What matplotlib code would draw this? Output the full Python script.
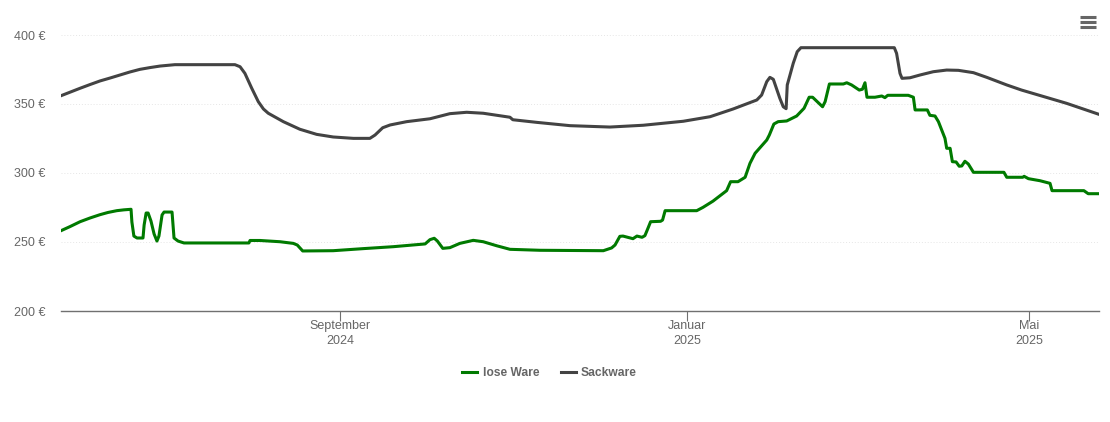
import matplotlib
matplotlib.use("Agg")
import matplotlib.pyplot as plt
from matplotlib.lines import Line2D
import pandas as pd

plt.rcParams['font.family'] = ['Liberation Sans', 'DejaVu Sans']

start_date = "2024-05-26"

# days since start_date, price in euro
lose_days = [0, 3.2, 6.7, 10.2, 13.7, 16.5, 19.6, 22.1, 24.6, 24.9, 25.6, 26.7, 28.8, 29.2, 29.9, 30.6, 31.6, 32.7,
             33.7, 34.4, 35.5, 36.2, 39, 39.7, 41.1, 43.2, 66, 66.4, 69.9, 76.9, 81.6, 83, 84.9, 95.6, 106.2, 116.7,
             127.9, 129.6, 131.1, 132.2, 134.1, 136.6, 140.1, 144.8, 148.3, 153, 157.7, 168.2, 190.5, 193.4, 194.6,
             196.3, 197.4, 200.9, 202.3, 204.1, 205.1, 206.2, 207.1, 210.6, 211.3, 212.2, 223.3, 225.5, 229, 233.8,
             235.2, 237.8, 240.3, 242, 243.8, 247.9, 248.8, 250.4, 251.9, 254.9, 258.4, 261, 262.8, 264, 267.5,
             268.4, 269.9, 274.8, 276, 277.7, 280.4, 281.5, 282.4, 283.1, 285.9, 288.3, 289.4, 290.4, 297.6, 299.4,
             300, 304.3, 305.2, 307, 308.2, 310.5, 311.1, 312.3, 313.1, 314.4, 315.5, 316.4, 317.5, 318.7, 320.5,
             331.2, 332.2, 337.8, 338.3, 339.8, 343.9, 347.4, 348.1, 359.3, 360.8, 364.6]
lose_price = [258.2, 261.2, 264.7, 267.4, 269.8, 271.4, 272.7, 273.3, 273.7, 264.5, 254.3, 252.9, 252.9, 262.3, 271,
              271, 265.2, 255.8, 250.7, 254.3, 269.6, 271.7, 271.7, 252.9, 250.7, 249.3, 249.3, 251.1, 251.1, 250.2,
              249, 247.8, 243.5, 243.7, 245.2, 246.6, 248.6, 251.7, 252.7, 250.7, 245.4, 245.9, 249, 251.2, 250.2,
              247.3, 244.7, 244, 243.7, 245.7, 247.8, 254.1, 254.3, 252.4, 254.3, 253.4, 254.6, 260.1, 264.7, 265,
              265.9, 272.7, 272.7, 275.1, 279.6, 287.2, 293.7, 293.7, 296.9, 307, 314.3, 323.9, 327.5, 335.5, 337.2,
              337.7, 341.3, 346.9, 354.9, 354.9, 348, 351.7, 364.5, 364.5, 365.4, 363.8, 360.1, 360.7, 365.4, 354.9,
              354.9, 355.8, 354.6, 356.3, 356.3, 354.9, 345.7, 345.7, 341.8, 341.3, 337.2, 325.1, 317.9, 317.9, 308.2,
              308, 304.9, 305.1, 308.5, 306.5, 300.5, 300.5, 296.9, 296.9, 297.6, 295.9, 294.4, 292.5, 287.2, 287.2,
              285, 285]

sack_days = [0, 6.7, 10.2, 13.7, 17.2, 20.7, 24.2, 27.7, 31.3, 34.8, 40, 61.1, 62.9, 64.6, 67, 69.3, 71.1, 72.8, 78.1,
             83.9, 89.8, 95.6, 102.7, 108.5, 110.3, 113, 115.6, 121.4, 129.6, 136.6, 142.5, 148.3, 157.7, 158.7,
             167.1, 178.8, 192.8, 204.5, 218.6, 228, 236.1, 244.4, 246.1, 247.9, 249, 250.2, 252.5, 253.7, 254.7,
             255.1, 257.2, 258.6, 259.9, 292.7, 293.5, 294.7, 295.4, 298.2, 301.7, 306.4, 311.1, 315.2, 320.5, 325.2,
             332.2, 337.4, 353.2, 364.6]
sack_price = [356, 361.4, 364.1, 366.7, 368.8, 371, 373.2, 375.1, 376.4, 377.5, 378.5, 378.5, 377, 372.2, 361.4, 351.7,
              346.4, 343.3, 337.2, 331.7, 328, 326.1, 325.1, 325.1, 327.5, 332.8, 334.8, 337.2, 339.3, 343, 344, 343.3,
              340.4, 338.6, 336.7, 334.3, 333.3, 334.6, 337.5, 340.8, 346.4, 352.9, 356.5, 366.2, 369.3, 367.9, 354.1,
              348, 346.6, 363.8, 379.5, 387.9, 390.8, 390.8, 386.7, 372.2, 368.6, 369, 371, 373.4, 374.6, 374.4, 372.7,
              369.3, 363.8, 360.1, 350.5, 342.5]

y_ticks = [200, 250, 300, 350, 400]
x_tick_dates = ["2024-09-01", "2025-01-01", "2025-05-01"]
x_tick_labels = ["September\n2024", "Januar\n2025", "Mai\n2025"]

GREEN = "#007a00"
GREY = "#434343"
TEXT = "#666666"

W, H = 1110, 422
fig = plt.figure(figsize=(W / 100, H / 100), dpi=100)
ax = fig.add_axes([61 / W, 1 - 311 / H, 1038 / W, 276 / H])


def to_dates(days):
    return pd.Timestamp(start_date) + pd.to_timedelta(days, unit="D")


ax.plot(to_dates(lose_days), lose_price, color=GREEN, lw=2.2, label="lose Ware", solid_joinstyle="round", zorder=3)
ax.plot(to_dates(sack_days), sack_price, color=GREY, lw=2.2, label="Sackware", solid_joinstyle="round", zorder=3)

ax.set_xlim(pd.Timestamp(start_date), to_dates([364.6])[0])
ax.set_ylim(200, 400)

for s in ["top", "left", "right"]:
    ax.spines[s].set_visible(False)
ax.spines["bottom"].set_color("#707070")
ax.spines["bottom"].set_linewidth(1)

ax.set_yticks(y_ticks)
ax.set_yticklabels([f"{v} €" for v in y_ticks])
ax.tick_params(axis="y", length=0, pad=11, labelsize=9, labelcolor=TEXT)
ax.set_xticks(pd.to_datetime(x_tick_dates))
ax.set_xticklabels(x_tick_labels, linespacing=1.36)
ax.tick_params(axis="x", length=7.2, width=0.8, color="#707070", pad=-0.6, labelsize=9, labelcolor=TEXT)

ax.grid(axis="y", color="#e6e6e6", lw=0.7, ls=(0, (1, 2)), zorder=0)
ax.set_axisbelow(True)

fig.legend(loc="center", bbox_to_anchor=(549.5 / W, 1 - 373 / H), ncol=2, frameon=False,
           prop={"size": 8.64, "weight": "bold"}, labelcolor=TEXT, handlelength=1.25,
           handletextpad=0.42, columnspacing=1.8, borderpad=0)

# menu icon top right
for y in [16.5, 21.5, 26.5]:
    fig.add_artist(Line2D([1079.5 / W, 1096 / W], [1 - y / H, 1 - y / H], color="#666666", lw=2.2,
                          solid_capstyle="butt"))

fig.savefig("out.png", dpi=100)
